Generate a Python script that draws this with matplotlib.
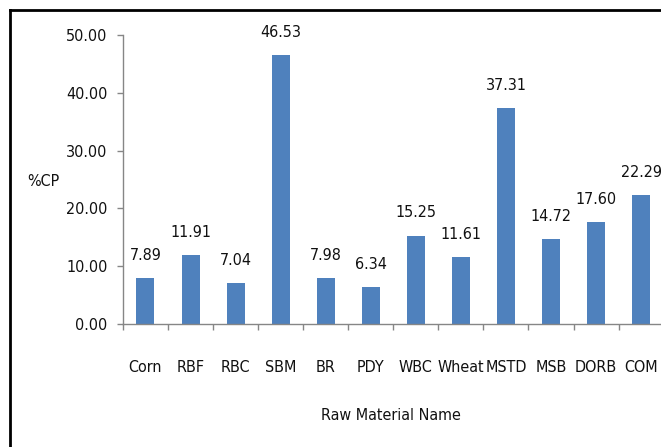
import numpy as np
import matplotlib
from matplotlib import pyplot as plt
from matplotlib.lines import Line2D
from matplotlib import font_manager as fm

# narrow face if one is installed, otherwise a smaller regular one
narrow = [f for f in fm.fontManager.ttflist
          if f.name == 'Liberation Sans Narrow'
          or (f.name == 'DejaVu Sans' and 'ondensed' in str(f.stretch))]
if any(f.name == 'Liberation Sans Narrow' for f in narrow):
    matplotlib.rcParams['font.family'] = ['Liberation Sans Narrow', 'DejaVu Sans']
    fsize = 13
elif narrow:
    matplotlib.rcParams['font.family'] = ['DejaVu Sans']
    matplotlib.rcParams['font.stretch'] = 'condensed'
    fsize = 11.5
else:
    matplotlib.rcParams['font.family'] = ['DejaVu Sans']
    fsize = 10.5
matplotlib.rcParams['font.size'] = fsize

materials = ['Corn', 'RBF', 'RBC', 'SBM', 'BR', 'PDY', 'WBC', 'Wheat',
             'MSTD', 'MSB', 'DORB', 'COM']
crude_protein = [7.89, 11.91, 7.04, 46.53, 7.98, 6.34, 15.25, 11.61,
                 37.31, 14.72, 17.60, 22.29]
yticks = [0, 10, 20, 30, 40, 50]

fig = plt.figure(figsize=(6.61, 4.47), dpi=100)
ax = fig.add_axes([0.186, 0.275, 0.818, 0.647])

x = np.arange(len(materials))
bars = ax.bar(x, crude_protein, width=0.4, color='#4F81BD', zorder=2)

# value labels above each bar
for xi, v in zip(x, crude_protein):
    ax.annotate('%.2f' % v, (xi, v), xytext=(0, 16.5), textcoords='offset points',
                ha='center', va='center', color='#111111')

ax.set_xlim(-0.5, len(materials) - 0.5)
ax.set_ylim(0, 50)
ax.set_yticks(yticks)
ax.set_yticklabels(['%.2f' % t for t in yticks], color='#111111')

ax.set_xticks(x)
ax.set_xticklabels(materials, color='#111111')
ax.set_xticks(np.arange(len(materials) + 1) - 0.5, minor=True)
ax.tick_params(axis='x', which='major', length=0, pad=26)
ax.tick_params(axis='x', which='minor', length=4, color='#868686', width=1)
ax.tick_params(axis='y', length=4, color='#868686', width=1, pad=7)

for s in ['top', 'right']:
    ax.spines[s].set_visible(False)
for s in ['left', 'bottom']:
    ax.spines[s].set_color('#868686')
    ax.spines[s].set_linewidth(1)

fig.text(43 / 661, 1 - 182 / 447, '%CP', ha='center', va='center', color='#111111')
fig.text(391 / 661, 1 - 415 / 447, 'Raw Material Name', ha='center', va='center',
         color='#111111')

# frame round the chart (left and top edges)
fig.add_artist(Line2D([10 / 661, 10 / 661], [0, 1 - 10 / 447], color='black', lw=2))
fig.add_artist(Line2D([10 / 661, 1], [1 - 10 / 447, 1 - 10 / 447], color='black', lw=2))

plt.savefig('out.png', dpi=100)
